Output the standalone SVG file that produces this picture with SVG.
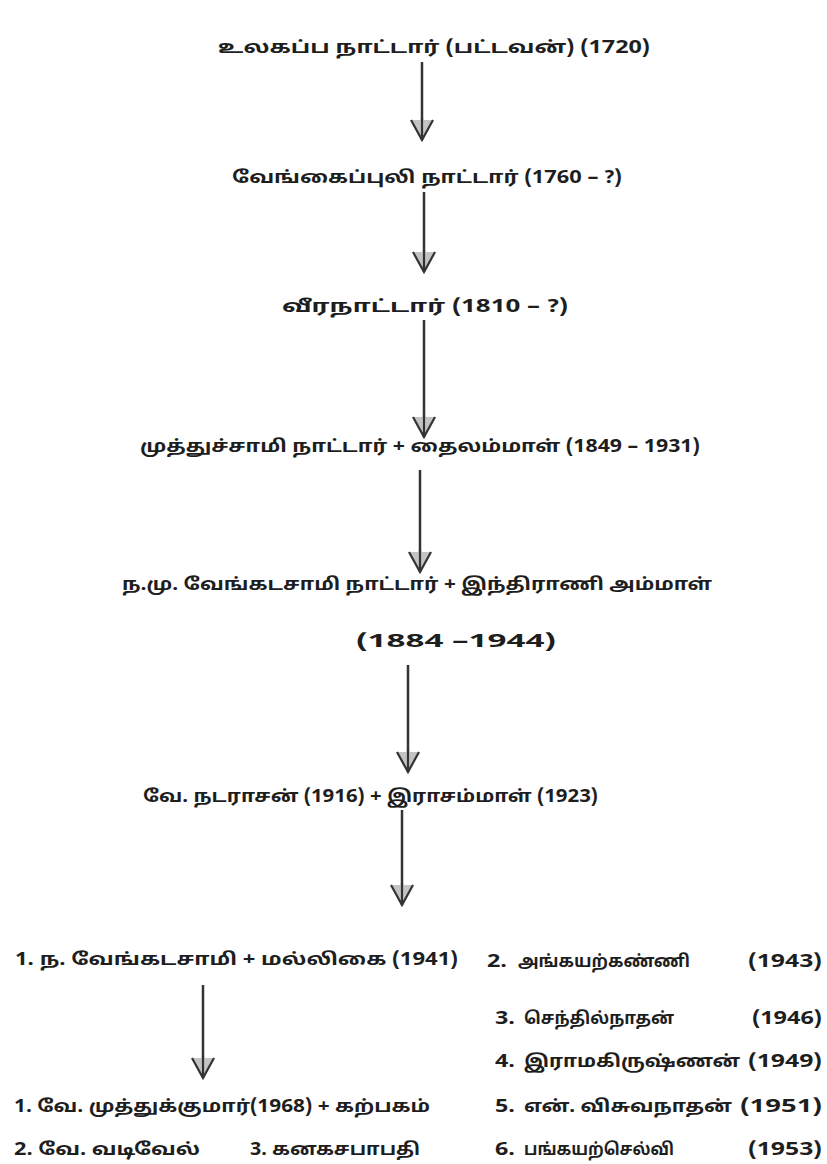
<svg xmlns="http://www.w3.org/2000/svg" width="827" height="1164" viewBox="0 0 827 1164">
<style>
text{font-family:"Noto Sans Tamil","Noto Sans","Lato",sans-serif;font-size:17px;font-weight:bold;fill:#1e1e1e}
.e{text-anchor:end}
.arr{stroke:#333;stroke-width:2.5;fill:none;marker-end:url(#ah)}
</style>
<defs>
<marker id="ah" viewBox="0 0 24 24" refX="22" refY="12" markerWidth="24" markerHeight="24" markerUnits="userSpaceOnUse" orient="auto">
<path d="M2,1 L22,12 L2,23 z" fill="#c4c4c4"/>
<path d="M2,1 L22,12 L2,23 M0,12 L22,12" fill="none" stroke="#333" stroke-width="2.2"/>
</marker>
</defs>
<rect width="827" height="1164" fill="#ffffff"/>
<g id="connectors">
<line class="arr" x1="422" y1="62" x2="422" y2="140"/>
<line class="arr" x1="424" y1="192" x2="424" y2="272"/>
<line class="arr" x1="424" y1="320" x2="424" y2="437"/>
<line class="arr" x1="420" y1="470" x2="420" y2="572"/>
<line class="arr" x1="408" y1="665" x2="408" y2="772"/>
<line class="arr" x1="402" y1="810" x2="402" y2="905"/>
<line class="arr" x1="203" y1="985" x2="203" y2="1078"/>
</g>
<g id="n1"><text x="218" y="53" textLength="432" lengthAdjust="spacingAndGlyphs">உலகப்ப நாட்டார் (பட்டவன்) (1720)</text></g>
<g id="n2"><text x="232" y="183" textLength="390" lengthAdjust="spacingAndGlyphs">வேங்கைப்புலி நாட்டார் (1760 – ?)</text></g>
<g id="n3"><text x="282" y="312" textLength="286" lengthAdjust="spacingAndGlyphs">வீரநாட்டார் (1810 – ?)</text></g>
<g id="n4"><text x="140" y="452" textLength="560" lengthAdjust="spacingAndGlyphs">முத்துச்சாமி நாட்டார் + தைலம்மாள் (1849 – 1931)</text></g>
<g id="n5">
<text x="122" y="590" textLength="590" lengthAdjust="spacingAndGlyphs">ந.மு. வேங்கடசாமி நாட்டார் + இந்திராணி அம்மாள்</text>
<text x="356" y="647" textLength="200" lengthAdjust="spacingAndGlyphs">(1884 –1944)</text>
</g>
<g id="n6"><text x="143" y="802" textLength="455" lengthAdjust="spacingAndGlyphs">வே. நடராசன் (1916) + இராசம்மாள் (1923)</text></g>
<g id="n7"><text x="15" y="965" textLength="443" lengthAdjust="spacingAndGlyphs">1. ந. வேங்கடசாமி + மல்லிகை (1941)</text></g>
<g id="n8"><text x="487" y="967" textLength="20" lengthAdjust="spacingAndGlyphs">2.</text><text x="518" y="967" textLength="172" lengthAdjust="spacingAndGlyphs">அங்கயற்கண்ணி</text><text x="748" y="967" textLength="74" lengthAdjust="spacingAndGlyphs">(1943)</text></g>
<g id="n9"><text x="495" y="1024" textLength="20" lengthAdjust="spacingAndGlyphs">3.</text><text x="524" y="1024" textLength="150" lengthAdjust="spacingAndGlyphs">செந்தில்நாதன்</text><text x="752" y="1024" textLength="70" lengthAdjust="spacingAndGlyphs">(1946)</text></g>
<g id="n10"><text x="495" y="1067" textLength="20" lengthAdjust="spacingAndGlyphs">4.</text><text x="524" y="1067" textLength="216" lengthAdjust="spacingAndGlyphs">இராமகிருஷ்ணன்</text><text x="748" y="1067" textLength="74" lengthAdjust="spacingAndGlyphs">(1949)</text></g>
<g id="n11"><text x="495" y="1112" textLength="20" lengthAdjust="spacingAndGlyphs">5.</text><text x="524" y="1112" textLength="208" lengthAdjust="spacingAndGlyphs">என். விசுவநாதன்</text><text x="740" y="1112" textLength="82" lengthAdjust="spacingAndGlyphs">(1951)</text></g>
<g id="n12"><text x="495" y="1155" textLength="20" lengthAdjust="spacingAndGlyphs">6.</text><text x="524" y="1155" textLength="150" lengthAdjust="spacingAndGlyphs">பங்கயற்செல்வி</text><text x="748" y="1155" textLength="74" lengthAdjust="spacingAndGlyphs">(1953)</text></g>
<g id="n13"><text x="14" y="1112" textLength="416" lengthAdjust="spacingAndGlyphs">1. வே. முத்துக்குமார்(1968) + கற்பகம்</text></g>
<g id="n14"><text x="14" y="1155" textLength="186" lengthAdjust="spacingAndGlyphs">2. வே. வடிவேல்</text></g>
<g id="n15"><text x="250" y="1155" textLength="170" lengthAdjust="spacingAndGlyphs">3. கனகசபாபதி</text></g>
</svg>
